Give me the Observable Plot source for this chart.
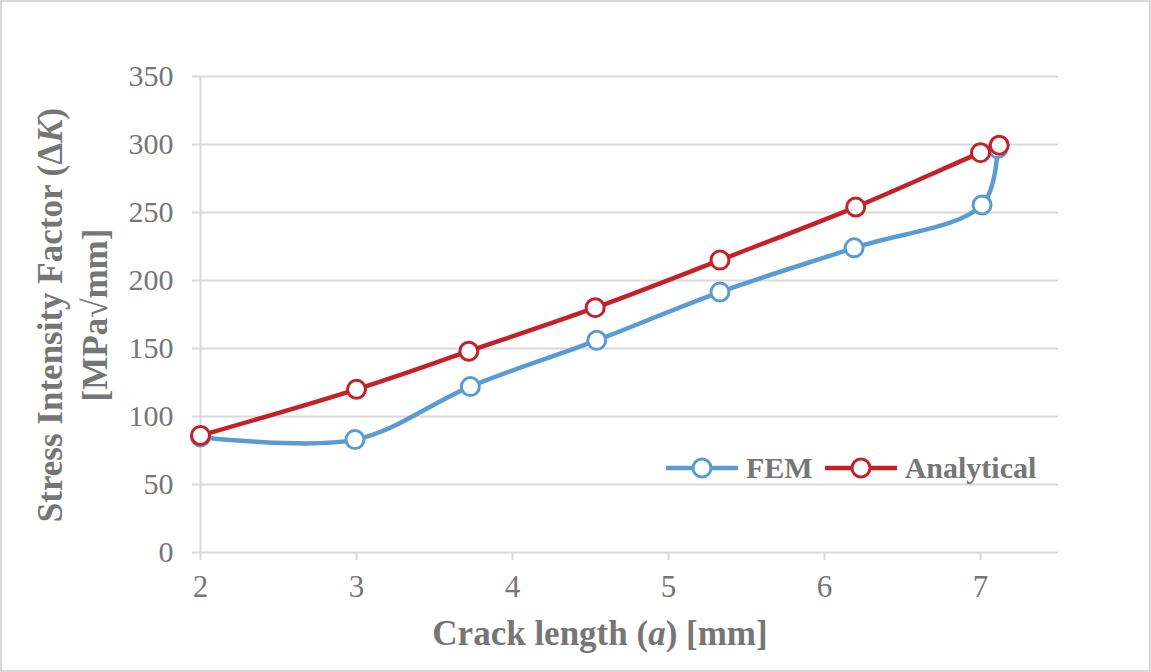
<!DOCTYPE html>
<html><head><meta charset="utf-8">
<script src="https://cdn.jsdelivr.net/npm/d3@7"></script>
<script src="https://cdn.jsdelivr.net/npm/@observablehq/plot@0.6"></script>
<style>
html,body{margin:0;padding:0;background:#fff;}
#wrap{position:relative;width:1151px;height:672px;}
#legend{position:absolute;left:666px;top:451px;display:flex;align-items:center;font-family:"Liberation Serif",serif;font-weight:bold;font-size:30px;color:#767676;}
#legend .item{display:flex;align-items:center;margin-right:12px;}
#legend svg{margin-right:8px;}
svg text{font-family:"Liberation Serif",serif !important;}
</style></head>
<body><div id="wrap"><div id="legend"></div></div>
<script>
const femX = [2, 2.99, 3.73, 4.54, 5.33, 6.19, 7.01, 7.11];
const femY = [85, 83, 122, 156, 191.5, 224, 255.5, 297];
const anaX = [2, 3, 3.72, 4.53, 5.33, 6.2, 7.0, 7.12];
const anaY = [86, 120, 148, 180, 215, 254, 294, 299.5];
const xTicks = [2, 3, 4, 5, 6, 7];
const yTicks = [0, 50, 100, 150, 200, 250, 300, 350];
const seriesNames = ["FEM", "Analytical"];
const colors = ["#5b9bd5", "#c42129"];

const fem = femX.map((x, i) => ({x, y: femY[i]}));
const ana = anaX.map((x, i) => ({x, y: anaY[i]}));

const font = '"Liberation Serif", serif';
const gray = "#767676";

const plot = Plot.plot({
  width: 1151, height: 672,
  marginLeft: 200, marginRight: 93, marginTop: 76, marginBottom: 120,
  style: {fontFamily: font, fontSize: "30px", color: gray, background: "white"},
  x: {domain: [2, 7.5], ticks: xTicks, label: null},
  y: {domain: [0, 350], ticks: yTicks, label: null},
  marks: [
    Plot.gridY(yTicks.filter(d => d > 0), {stroke: "#d9d9d9", strokeOpacity: 1, strokeWidth: 2}),
    Plot.ruleY([0], {stroke: "#d9d9d9", strokeWidth: 2}),
    Plot.ruleX([2], {stroke: "#d9d9d9", strokeWidth: 2}),
    Plot.axisX({ticks: xTicks, tickSize: 8, tickPadding: 14, stroke: "#d9d9d9", strokeWidth: 2, fill: gray, tickFormat: d => String(d), fontFamily: font, fontSize: 31}),
    Plot.axisY({ticks: yTicks, tickSize: 8, tickPadding: 19, stroke: "#d9d9d9", strokeWidth: 2, fill: gray, fontFamily: font, fontSize: 30}),
    Plot.line(fem, {x: "x", y: "y", stroke: colors[0], strokeWidth: 4.5, curve: "catmull-rom"}),
    Plot.dot(fem, {x: "x", y: "y", r: 9, fill: "white", stroke: colors[0], strokeWidth: 3}),
    Plot.line(ana, {x: "x", y: "y", stroke: colors[1], strokeWidth: 4.5, curve: "catmull-rom"}),
    Plot.dot(ana, {x: "x", y: "y", r: 9, fill: "white", stroke: colors[1], strokeWidth: 3})
  ]
});

const svg = d3.select(plot);
svg.selectAll("text").attr("font-family", font);
svg.append("rect").attr("x", 1).attr("y", 1).attr("width", 1149).attr("height", 670)
  .attr("fill", "none").attr("stroke", "#d9d9d9").attr("stroke-width", 2);

// x title
const xt = svg.append("text").attr("x", 600).attr("y", 645).attr("text-anchor", "middle")
  .attr("font-family", font).attr("font-size", 35).attr("font-weight", "bold").attr("fill", gray);
xt.append("tspan").text("Crack length (");
xt.append("tspan").attr("font-style", "italic").text("a");
xt.append("tspan").text(") [mm]");

// y title
const yg = svg.append("g").attr("transform", "translate(0,315) rotate(-90)");
const y1 = yg.append("text").attr("x", 0).attr("y", 62).attr("text-anchor", "middle")
  .attr("font-family", font).attr("font-size", 35).attr("font-weight", "bold").attr("fill", gray);
y1.append("tspan").text("Stress Intensity Factor (Δ");
y1.append("tspan").attr("font-style", "italic").text("K");
y1.append("tspan").text(")");
yg.append("text").attr("x", 0).attr("y", 107).attr("text-anchor", "middle")
  .attr("font-family", font).attr("font-size", 35).attr("font-weight", "bold").attr("fill", gray)
  .text("[MPa√mm]");

document.getElementById("wrap").prepend(plot);

const leg = document.getElementById("legend");
seriesNames.forEach((n, i) => {
  const it = document.createElement("div");
  it.className = "item";
  it.innerHTML = `<svg width="72" height="24"><line x1="0" y1="12" x2="72" y2="12" stroke="${colors[i]}" stroke-width="4.5"/><circle cx="36" cy="12" r="9" fill="white" stroke="${colors[i]}" stroke-width="3"/></svg><span>${n}</span>`;
  leg.appendChild(it);
});
</script></body></html>
